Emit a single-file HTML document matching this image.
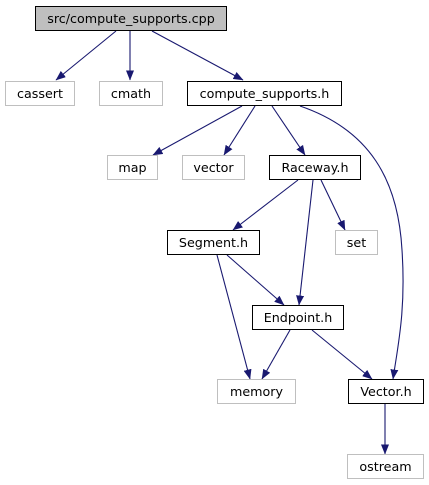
<!DOCTYPE html>
<html><head><meta charset="utf-8"><style>html,body{margin:0;padding:0;background:#fff}svg{display:block}text{font-family:"DejaVu Sans","Liberation Sans",sans-serif;font-size:12.7px;fill:#000}</style></head><body>
<svg width="429" height="485" viewBox="0 0 429 485" xmlns="http://www.w3.org/2000/svg">
<defs><marker id="a" markerWidth="10" markerHeight="8" refX="9.5" refY="4" orient="auto" markerUnits="userSpaceOnUse"><path d="M0,0 L10,4 L0,8 Z" fill="#191970"/></marker></defs>
<g stroke="#191970" stroke-width="1.1" fill="none" marker-end="url(#a)">
<path d="M116,31 L56,80"/>
<path d="M130,31 L130,80"/>
<path d="M152,31 L243,80"/>
<path d="M242,106 L153,155"/>
<path d="M255,106 L224,155"/>
<path d="M272,106 L305,155"/>
<path d="M300,106 C370,130 398,180 402,250 C406,310 398,345 393,379"/>
<path d="M298,180 L233,230"/>
<path d="M313,180 L299,305"/>
<path d="M321,180 L345,230"/>
<path d="M217,255 L250,379"/>
<path d="M227,255 L284,305"/>
<path d="M290,330 L262,379"/>
<path d="M312,330 L372,379"/>
<path d="M385,404 L385,454"/>
</g>
<g stroke-width="1">
<rect x="35.5" y="6.5" width="191" height="24" fill="#bfbfbf" stroke="#000"/>
<rect x="5.5" y="81.5" width="69" height="24" fill="#fff" stroke="#bfbfbf"/>
<rect x="99.5" y="81.5" width="63" height="24" fill="#fff" stroke="#bfbfbf"/>
<rect x="187.5" y="81.5" width="154" height="24" fill="#fff" stroke="#000"/>
<rect x="107.5" y="155.5" width="50" height="24" fill="#fff" stroke="#bfbfbf"/>
<rect x="182.5" y="155.5" width="62" height="24" fill="#fff" stroke="#bfbfbf"/>
<rect x="269.5" y="155.5" width="91" height="24" fill="#fff" stroke="#000"/>
<rect x="167.5" y="230.5" width="92" height="24" fill="#fff" stroke="#000"/>
<rect x="335.5" y="230.5" width="42" height="24" fill="#fff" stroke="#bfbfbf"/>
<rect x="252.5" y="305.5" width="91" height="24" fill="#fff" stroke="#000"/>
<rect x="217.5" y="379.5" width="78" height="24" fill="#fff" stroke="#bfbfbf"/>
<rect x="348.5" y="379.5" width="75" height="24" fill="#fff" stroke="#000"/>
<rect x="347.5" y="454.5" width="76" height="24" fill="#fff" stroke="#bfbfbf"/>
</g>
<g text-anchor="middle">
<text x="131" y="23">src/compute_supports.cpp</text>
<text x="40" y="98">cassert</text>
<text x="131" y="98">cmath</text>
<text x="264.5" y="98">compute_supports.h</text>
<text x="132.5" y="172">map</text>
<text x="213.5" y="172">vector</text>
<text x="315" y="172">Raceway.h</text>
<text x="213.5" y="247">Segment.h</text>
<text x="356.5" y="247">set</text>
<text x="298" y="322">Endpoint.h</text>
<text x="256.5" y="396">memory</text>
<text x="386" y="396">Vector.h</text>
<text x="385.5" y="471">ostream</text>
</g>
</svg>
</body></html>
